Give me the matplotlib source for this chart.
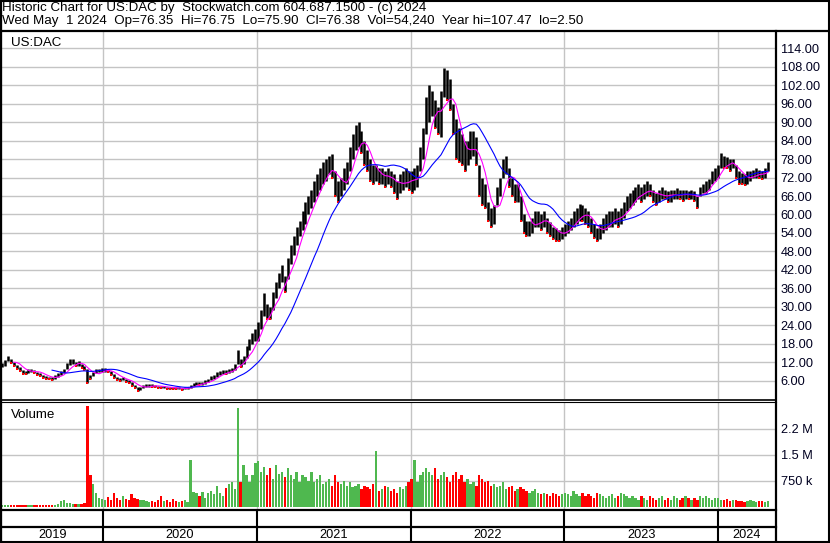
import matplotlib
matplotlib.use('Agg')
import matplotlib.pyplot as plt
import matplotlib.dates as mdates
import numpy as np
import pandas as pd
from datetime import datetime

plt.rcParams['font.family'] = ['Liberation Sans', 'DejaVu Sans']

# ---------------- data (weekly) ----------------
start_date = '2019-05-06'

week_low = [
    # 2019 (May-Dec)
    10.5, 11, 12.5, 11.8, 11, 10, 9.2, 8.3, 8.2, 8.6, 9, 8.6, 8.1, 7.5, 7, 6.6, 6.6, 6.4, 6.8, 7.4,
    8, 8.6, 9.8, 11.2, 11.5, 10.8, 11, 10.3, 9.6, 5.4, 6.5, 7.6, 8.6, 8.8, 9,
    # 2020
    9, 8.8, 8, 7, 6.4, 6, 6.2, 5.8, 5.2, 4.5, 3.6, 2.9, 3.2, 3.8, 4.2, 4.2, 4.1, 3.9, 3.8, 3.7,
    3.7, 3.5, 3.5, 3.4, 3.3, 3.3, 3.2, 3.3, 3.4, 3.8, 4.5, 4.8, 4.7, 4.8, 5.1, 5.6, 6.3, 6.8, 7.4, 8,
    8.3, 8.2, 8.6, 8.8, 9.6, 11.5, 10.5, 11.5, 13.5, 16, 18, 19,
    # 2021
    19, 23, 27, 26, 26, 29, 33, 36, 38, 35, 39, 44, 47, 50, 53, 55, 57, 60, 62, 64,
    66, 68, 70, 71, 73, 72, 66, 64, 66, 68, 70, 74, 78, 81, 82, 80, 76, 74, 71, 70,
    71, 70, 70, 69, 70, 69, 67, 65, 67, 68, 69, 68,
    # 2022
    67, 68, 69, 74, 78, 86, 90, 92, 88, 86, 85, 98, 97, 94, 86, 78, 77, 76, 74, 76,
    78, 79, 76, 66, 63, 62, 58, 56, 57, 63, 66, 72, 73, 69, 66, 64, 64, 58, 54, 53,
    53, 54, 56, 56, 55, 56, 54, 53, 52, 51.5, 51.5, 52,
    # 2023
    53, 54, 55, 56, 57, 58, 58, 57, 56, 54, 52.5, 51.5, 52, 54, 55, 56, 56, 57, 56, 57,
    59, 61, 62, 63, 64, 65, 64, 65, 66, 66, 64, 63, 64, 65, 65, 64, 64, 65, 65, 65,
    64.5, 65, 65, 65, 64.5, 62, 66, 67, 67, 68, 70, 71,
    # 2024
    72, 75, 75, 75, 74, 75, 72, 70, 70, 69.5, 70, 71, 72, 72, 72, 71.5, 72, 74,
]

week_high = [
    # 2019
    11.8, 12.8, 14, 13.2, 12.3, 11.3, 10.4, 9.5, 9.2, 9.8, 10, 9.6, 9, 8.5, 8, 7.6, 7.4, 7.3, 7.8, 8.6,
    9.2, 9.8, 11.8, 13, 13.2, 12.2, 12.6, 11.6, 11, 9.8, 8, 9, 9.8, 10, 10.2,
    # 2020
    10.2, 9.8, 9.2, 8.3, 7.4, 7, 7.2, 6.8, 6.2, 5.6, 4.8, 4, 4.2, 4.6, 5, 5, 4.9, 4.6, 4.5, 4.4,
    4.4, 4.2, 4.1, 4, 3.9, 3.9, 3.8, 3.9, 4.2, 4.6, 5.5, 5.8, 5.6, 5.8, 6.2, 6.8, 7.6, 8, 8.8, 9.4,
    9.6, 9.5, 9.8, 10.2, 11.6, 16, 13, 14, 17.5, 19.5, 21.5, 23,
    # 2021
    25, 29, 34.5, 31, 30, 35, 38, 41, 43.5, 40, 46, 50, 53, 56, 58, 61, 64, 66, 68, 71,
    73, 75, 77, 78, 79, 79.5, 74, 71, 72, 75, 77, 82, 86, 89, 90, 87, 84, 81, 78, 76,
    76, 75, 75, 74, 75, 74, 73, 71, 73, 74, 75, 74,
    # 2022
    74, 75, 76, 82, 88, 98, 102, 100, 97, 95, 100, 107.5, 107, 104, 96, 91, 88, 86, 84, 84,
    87, 87, 85, 76, 72, 70, 64, 62, 63, 69, 72, 78, 79, 75, 72, 70, 70, 66, 60, 58,
    58, 59, 61, 61, 60, 61, 59, 57.5, 56, 55.5, 55, 56,
    # 2023
    57, 58, 59, 61, 62, 63.5, 63, 62, 61, 59, 57, 55.5, 57, 59, 60, 61, 61, 62, 61, 62,
    64, 66, 67, 68, 69, 70, 69, 70, 71, 70, 68, 67, 68, 69, 68, 67.5, 68, 68, 68.5, 68,
    68, 68, 67.5, 68, 67.5, 66, 69, 70, 71, 71.5, 74, 75,
    # 2024
    76, 80, 79, 78.5, 78, 78, 76, 74, 73.5, 73, 74, 74, 74.5, 75, 74.5, 74, 75, 77,
]

week_volume_k = [
    # 2019
    40, 35, 45, 40, 35, 30, 35, 40, 30, 35, 30, 30, 35, 40, 35, 30, 40, 35, 45, 60,
    150, 180, 110, 90, 70, 60, 80, 70, 90, 2900, 900, 650, 400, 250, 220,
    # 2020
    180, 260, 200, 380, 250, 200, 300, 220, 180, 350, 250, 220, 200, 180, 150, 120, 160, 120, 200, 300,
    150, 180, 140, 220, 160, 130, 150, 180, 120, 1350, 420, 380, 300, 420, 250, 380, 450, 350, 600, 400,
    300, 520, 650, 720, 500, 2850, 700, 1200, 900, 700, 900, 1250,
    # 2021
    1300, 1000, 1150, 900, 1100, 800, 1200, 950, 1000, 850, 1100, 900, 800, 1000, 700, 900, 850, 750, 1000, 700,
    800, 900, 650, 700, 800, 600, 900, 700, 650, 750, 600, 700, 550, 600, 650, 500, 600, 550, 500, 650,
    1600, 450, 500, 600, 550, 450, 500, 400, 550, 500, 600, 700,
    # 2022
    800, 1350, 700, 900, 1000, 1100, 1000, 900, 1100, 800, 900, 1000, 850, 700, 900, 1000, 800, 900, 700, 800,
    650, 700, 600, 900, 800, 700, 750, 600, 650, 550, 600, 700, 500, 550, 600, 450, 500, 550, 500, 450,
    400, 450, 500, 400, 350, 400, 350, 300, 400, 350, 300, 350,
    # 2023
    400, 350, 300, 450, 350, 300, 400, 300, 350, 300, 250, 400, 350, 300, 250, 300, 350, 250, 300, 400,
    350, 300, 250, 300, 250, 200, 300, 250, 200, 300, 250, 200, 250, 300, 200, 250, 200, 300, 250, 200,
    250, 300, 250, 200, 250, 200, 300, 250, 300, 250, 200, 250,
    # 2024
    250, 200, 180, 220, 150, 180, 200, 150, 170, 130, 150, 200, 150, 130, 170, 150, 120, 150,
]

price_ticks = [6, 12, 18, 24, 30, 36, 42, 48, 54, 60, 66, 72, 78, 84, 90, 96, 102, 108, 114]
volume_ticks = [750_000, 1_500_000, 2_250_000]
volume_tick_labels = ['750 k', '1.5 M', '2.2 M']
years = [2019, 2020, 2021, 2022, 2023, 2024]
fast_window = 5
slow_window = 18

title_line = 'Historic Chart for US:DAC by  Stockwatch.com 604.687.1500 - (c) 2024'
quote_line = ('Wed May  1 2024  Op=76.35  Hi=76.75  Lo=75.90  Cl=76.38  '
              'Vol=54,240  Year hi=107.47  lo=2.50')

# ---------------- derived ----------------
low = np.array(week_low, dtype=float)
high = np.array(week_high, dtype=float)
vol = np.array(week_volume_k, dtype=float) * 1000
n = len(low)
dates = pd.date_range(start_date, periods=n, freq='7D')
mid = (low + high) / 2
ma_fast = pd.Series(mid).rolling(fast_window).mean().to_numpy()
ma_slow = pd.Series(mid).rolling(slow_window).mean().to_numpy()
down = np.r_[False, mid[1:] < mid[:-1]]
vol_colors = np.where(down, '#ff0000', '#4fb84f')

# ---------------- figure layout (pixel helpers) ----------------
W, H = 830, 543
fig = plt.figure(figsize=(W / 100, H / 100), dpi=100)
fig.patch.set_facecolor('white')


def box(x0, y0, x1, y1):
    return [x0 / W, 1 - y1 / H, (x1 - x0) / W, (y1 - y0) / H]


year_nums = [mdates.date2num(datetime(y, 1, 1)) for y in years]
days_per_px = (year_nums[5] - year_nums[1]) / (718 - 103)
xleft = year_nums[1] - (103 - 2) * days_per_px
xright = year_nums[5] + (775 - 718) * days_per_px

FS = 9.2
FS_HEAD = 9.6
GRID = '#c4c4c4'

# price panel
ax = fig.add_axes(box(2, 32, 775, 399))
ax.set_xlim(xleft, xright)
ax.set_ylim(6 - (399 - 381) / 3.083, 114 + (48 - 32) / 3.083)
ax.set_yticks(price_ticks)
ax.set_yticklabels([f'{v:.2f}' for v in price_ticks])
ax.set_xticks([])
ax.tick_params(axis='y', left=False, labelleft=False, right=True, labelright=True,
               length=0, pad=4, labelsize=FS, labelcolor='#000020')
ax.grid(axis='y', color=GRID, lw=1.0)
for yn in year_nums[1:]:
    ax.axvline(yn, color=GRID, lw=1.0, zorder=0.5)
for s in ax.spines.values():
    s.set_visible(False)
ax.set_axisbelow(True)

ax.vlines(dates, low, high, color='black', lw=1.8, zorder=2)
ax.scatter(dates[down], low[down], marker='s', s=3, color='#ff0000', lw=0, zorder=3)
ax.plot(dates, ma_fast, color='#ff00ff', lw=0.8, zorder=4)
ax.plot(dates, ma_slow, color='#0000ff', lw=0.8, zorder=4)
ax.text(9 / 773, 1 - (45.7 - 32) / 367, 'US:DAC', transform=ax.transAxes,
        fontsize=FS_HEAD, va='baseline', ha='left')

# volume panel
axv = fig.add_axes(box(2, 403, 775, 508.5))
axv.set_xlim(xleft, xright)
px_per_unit = 26 / 750_000
axv.set_ylim(-(508.5 - 506.5) / px_per_unit, (506.5 - 403) / px_per_unit)
axv.set_yticks(volume_ticks)
axv.set_yticklabels(volume_tick_labels)
axv.set_xticks([])
axv.tick_params(axis='y', left=False, labelleft=False, right=True, labelright=True,
                length=0, pad=4, labelsize=FS, labelcolor='#000020')
axv.grid(axis='y', color=GRID, lw=1.0)
for yn in year_nums[1:]:
    axv.axvline(yn, color=GRID, lw=1.0, zorder=0.5)
for s in axv.spines.values():
    s.set_visible(False)
axv.set_axisbelow(True)
axv.bar(dates, vol, width=5.5, color=vol_colors, align='center', lw=0, zorder=2)
axv.text(9 / 773, 1 - (418.3 - 403) / 105.5, 'Volume', transform=axv.transAxes,
         fontsize=FS_HEAD, va='baseline', ha='left')

# bottom (year) rows
axb = fig.add_axes(box(2, 509, 775, 541))
axb.set_xlim(xleft, xright)
axb.set_ylim(541, 509)
axb.axis('off')
for yn in year_nums[1:]:
    axb.vlines(yn, 509, 541, color='black', lw=1.5)
bounds = [xleft] + year_nums[1:] + [xright]
for i, y in enumerate(years):
    axb.text((bounds[i] + bounds[i + 1]) / 2, 534.5, str(y), ha='center', va='center',
             fontsize=FS)

# overlay frame lines in pixel coordinates
ov = fig.add_axes([0, 0, 1, 1])
ov.set_xlim(0, W)
ov.set_ylim(H, 0)
ov.axis('off')
ov.patch.set_alpha(0)
K = 'black'
ov.plot([0.75, W - 0.75, W - 0.75, 0.75, 0.75], [0.75, 0.75, H - 0.75, H - 0.75, 0.75],
        color=K, lw=1.5, solid_joinstyle='miter')
ov.plot([1, 1], [0, H], color=K, lw=1.6)
ov.plot([0, W], [31, 31], color=K, lw=1.6)
ov.plot([775.5, 775.5], [31, H], color=K, lw=1.6)
ov.plot([0, 775.5], [399.5, 399.5], color=K, lw=1.2)
ov.plot([0, 775.5], [402, 402], color=K, lw=0.8)
ov.plot([0, 775.5], [509.5, 509.5], color=K, lw=1.6)
ov.plot([0, 775.5], [527, 527], color=K, lw=1.6)
ov.text(1.5, 10.5, title_line, fontsize=FS_HEAD, va='baseline', ha='left')
ov.text(2, 24, quote_line, fontsize=FS_HEAD, va='baseline', ha='left')

fig.savefig('out.png', dpi=100, facecolor='white')
